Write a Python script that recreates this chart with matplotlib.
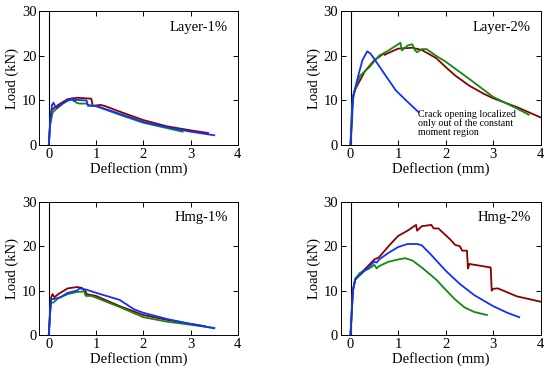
import numpy as np
import matplotlib
matplotlib.use('Agg')
import matplotlib.pyplot as plt

plt.rcParams['font.family'] = ['Liberation Serif', 'DejaVu Serif']

RED = '#8b0000'
GREEN = '#118a11'
BLUE = '#1030ff'

# Layer-1%
l1_red_x = [0, 0.03, 0.06, 0.1, 0.2, 0.4, 0.6, 0.9, 0.93, 1.1, 1.2, 1.5, 2.0, 2.5, 3.0, 3.37]
l1_red_y = [0, 5.0, 7.8, 8.2, 9.0, 10.3, 10.6, 10.4, 8.8, 9.0, 8.7, 7.5, 5.6, 4.2, 3.3, 2.7]
l1_grn_x = [0, 0.03, 0.08, 0.1, 0.15, 0.3, 0.4, 0.55, 0.58, 0.65, 0.8, 0.83, 1.0, 1.5, 2.0, 2.5, 2.83]
l1_grn_y = [0, 4.5, 7.3, 7.5, 8.0, 9.3, 10.0, 10.2, 9.5, 9.3, 9.3, 9.0, 8.7, 6.8, 5.0, 3.8, 3.0]
l1_blu_x = [0, 0.03, 0.07, 0.1, 0.13, 0.17, 0.3, 0.5, 0.53, 0.57, 0.6, 0.8, 0.83, 1.0, 1.5, 2.0, 2.5, 3.0, 3.5]
l1_blu_y = [0, 5.5, 9.0, 9.5, 8.8, 8.3, 9.4, 10.5, 9.8, 10.2, 10.1, 10.0, 8.8, 8.8, 7.0, 5.2, 4.0, 3.0, 2.2]

# Layer-2%
l2_red_x = [0, 0.03, 0.06, 0.1, 0.2, 0.3, 0.5, 0.7, 0.72, 0.75, 1.0, 1.3, 1.5, 1.8, 2.0, 2.2, 2.5, 2.8, 3.0, 3.5, 4.0]
l2_red_y = [0, 8.0, 11.0, 12.5, 14.5, 16.5, 19.0, 20.5, 20.2, 20.4, 21.6, 21.8, 21.3, 19.5, 17.5, 15.6, 13.3, 11.5, 10.5, 8.5, 6.2]
l2_grn_x = [0, 0.03, 0.05, 0.1, 0.2, 0.4, 0.6, 0.8, 1.05, 1.08, 1.2, 1.3, 1.35, 1.4, 1.5, 1.6, 1.8, 2.0, 2.5, 3.0, 3.5, 3.75]
l2_grn_y = [0, 7.0, 11.0, 12.5, 15.5, 17.5, 20.0, 21.2, 22.9, 21.2, 22.3, 22.6, 21.3, 20.8, 21.5, 21.5, 20.0, 18.7, 14.8, 10.8, 8.2, 6.8]
l2_blu_x = [0, 0.03, 0.05, 0.08, 0.15, 0.25, 0.35, 0.42, 0.52, 0.73, 0.95, 1.16, 1.43]
l2_blu_y = [0, 5.0, 10.0, 12.0, 15.0, 19.0, 21.0, 20.5, 19.0, 15.7, 12.3, 10.1, 7.4]

# Hmg-1%
h1_red_x = [0, 0.03, 0.05, 0.08, 0.12, 0.2, 0.4, 0.6, 0.7, 0.78, 0.8, 1.0, 1.5, 2.0, 2.5, 3.0, 3.3]
h1_red_y = [0, 6.0, 8.5, 9.2, 8.5, 9.2, 10.5, 10.8, 10.6, 9.8, 9.2, 8.8, 6.5, 4.5, 3.4, 2.5, 2.0]
h1_grn_x = [0, 0.03, 0.05, 0.1, 0.2, 0.4, 0.6, 0.75, 0.78, 0.9, 1.0, 1.5, 2.0, 2.5, 3.0, 3.5]
h1_grn_y = [0, 5.0, 7.3, 7.3, 8.3, 9.2, 9.7, 9.8, 8.8, 8.8, 8.4, 6.3, 4.0, 3.0, 2.3, 1.6]
h1_blu_x = [0, 0.03, 0.05, 0.15, 0.25, 0.4, 0.6, 0.65, 0.8, 1.0, 1.5, 1.8, 2.0, 2.5, 3.0, 3.5]
h1_blu_y = [0, 5.5, 8.0, 8.2, 8.5, 9.5, 10.0, 10.5, 10.2, 9.5, 7.9, 5.8, 5.0, 3.6, 2.5, 1.5]

# Hmg-2%
h2_red_x = [0, 0.05, 0.1, 0.2, 0.3, 0.5, 0.6, 0.8, 1.0, 1.2, 1.38, 1.4, 1.5, 1.7, 1.75, 1.85, 2.0, 2.1,
            2.2, 2.3, 2.35, 2.45, 2.47, 2.5, 2.95, 2.97, 3.0, 3.1, 3.5, 4.0]
h2_red_y = [0, 10.0, 12.5, 13.8, 14.8, 17.0, 17.5, 20.0, 22.3, 23.5, 24.8, 23.5, 24.5, 24.8, 24.0, 24.0, 22.5, 21.5,
            20.3, 20.0, 19.0, 19.0, 15.0, 16.0, 15.2, 10.0, 10.4, 10.5, 8.7, 7.5]
h2_grn_x = [0, 0.05, 0.1, 0.2, 0.3, 0.4, 0.5, 0.55, 0.6, 0.8, 1.0, 1.15, 1.3, 1.5, 1.8, 2.0, 2.2, 2.4, 2.6, 2.87]
h2_grn_y = [0, 10.0, 12.7, 14.0, 14.5, 15.0, 15.8, 15.0, 15.5, 16.5, 17.0, 17.3, 16.8, 15.2, 12.5, 10.2, 8.0, 6.2, 5.2, 4.5]
h2_blu_x = [0, 0.05, 0.1, 0.2, 0.4, 0.5, 0.55, 0.6, 0.8, 1.0, 1.2, 1.4, 1.5, 1.7, 2.0, 2.3, 2.6, 3.0, 3.3, 3.55]
h2_blu_y = [0, 10.0, 12.5, 13.5, 15.5, 16.5, 16.3, 17.0, 18.5, 19.8, 20.5, 20.5, 20.2, 18.0, 14.5, 11.5, 9.0, 6.5, 5.0, 4.0]

panels = [
    ('Layer-1%', [(l1_red_x, l1_red_y, RED), (l1_grn_x, l1_grn_y, GREEN), (l1_blu_x, l1_blu_y, BLUE)]),
    ('Layer-2%', [(l2_red_x, l2_red_y, RED), (l2_grn_x, l2_grn_y, GREEN), (l2_blu_x, l2_blu_y, BLUE)]),
    ('Hmg-1%', [(h1_red_x, h1_red_y, RED), (h1_grn_x, h1_grn_y, GREEN), (h1_blu_x, h1_blu_y, BLUE)]),
    ('Hmg-2%', [(h2_red_x, h2_red_y, RED), (h2_grn_x, h2_grn_y, GREEN), (h2_blu_x, h2_blu_y, BLUE)]),
]

rects = [
    [0.0715, 0.610, 0.361, 0.360],
    [0.620, 0.610, 0.363, 0.360],
    [0.0715, 0.0995, 0.361, 0.358],
    [0.620, 0.0995, 0.363, 0.358],
]

fig = plt.figure(figsize=(5.5, 3.72), dpi=100)
for rect, (name, curves) in zip(rects, panels):
    ax = fig.add_axes(rect)
    ax.axvline(0, color='k', lw=0.8)
    for x, y, c in curves:
        ax.plot(x, y, color=c, lw=1.3)
    ax.set_xlim(-0.2, 4)
    ax.set_ylim(0, 30)
    ax.set_xticks([0, 1, 2, 3, 4])
    ax.set_yticks([0, 10, 20, 30])
    ax.tick_params(direction='in', top=True, right=True, length=3.5, width=0.7, labelsize=10.5, pad=2)
    for s in ax.spines.values():
        s.set_linewidth(0.7)
    ax.set_xlabel('Deflection (mm)', fontsize=10.5, labelpad=1)
    ax.set_ylabel('Load (kN)', fontsize=10.5, labelpad=2)
    ax.text(0.95, 0.88, name, transform=ax.transAxes, ha='right', va='center', fontsize=10.5)
    if name == 'Layer-2%':
        ax.text(1.43, 7.9, 'Crack opening localized\nonly out of the constant\nmoment region',
                fontsize=7.2, ha='left', va='top', linespacing=0.95)

fig.savefig('out.png', dpi=100)
